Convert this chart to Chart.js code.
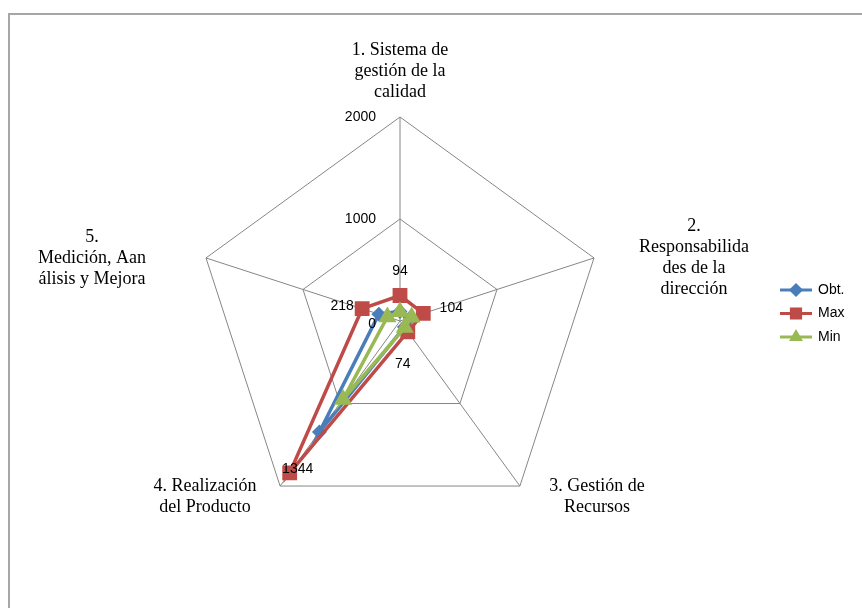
<!DOCTYPE html>
<html>
<head>
<meta charset="utf-8">
<script src="https://cdn.jsdelivr.net/npm/chart.js@4.4.0/dist/chart.umd.min.js"></script>
<style>
  html, body { margin: 0; padding: 0; background: #fff; overflow: hidden; }
  #wrap { position: relative; width: 862px; height: 608px; }
  #frame { position: absolute; left: 8px; top: 13px; width: 900px; height: 700px;
           border-left: 2px solid #a6a6a6; border-top: 2px solid #a6a6a6; }
  #radar { position: absolute; left: 0; top: 0; }
</style>
</head>
<body>
<div id="wrap">
  <div id="frame"></div>
  <canvas id="radar" width="862" height="608"></canvas>
</div>
<script>
// axis categories (multi-line labels)
const categories = [
  ["1. Sistema de", "gestión de la", "calidad"],
  ["2.", "Responsabilida", "des de la", "dirección"],
  ["3. Gestión de", "Recursos"],
  ["4. Realización", "del Producto"],
  ["5.", "Medición, Aan", "álisis y Mejora"],
];

const seriesNames = ["Obt.", "Max", "Min"];
const obtValues = [94, 104, 74, 1344, 218];
const maxValues = [250, 240, 130, 1840, 390];
const minValues = [90, 120, 80, 950, 130];

const tickValues = [0, 1000, 2000];
// labels shown next to the Max points
const dataLabels = ["94", "104", "74", "1344", "218"];

const colors = ["#4a7ebb", "#be4b48", "#98b954"];
const markers = ["rectRot", "rect", "triangle"];

const serif = "18px 'Liberation Serif', 'Times New Roman', serif";
const sans = "14px 'Liberation Sans', Arial, sans-serif";

// point label placement relative to each axis end: [dx, dy, vertical anchor]
const labelPlace = [
  [0, -14, "bottom"],
  [100, 0, "middle"],
  [77, 0, "top"],
  [-75, 0, "top"],
  [-114, 0, "middle"],
];
// data label shift from the Max point
const dlShift = [[0, -24], [28, -5], [-5, 32], [8, -4], [-20, -3]];

const overlay = {
  id: "overlay",
  afterDraw(chart) {
    const ctx = chart.ctx;
    const r = chart.scales.r;
    ctx.save();
    ctx.fillStyle = "#000";

    // axis labels
    ctx.font = serif;
    ctx.textAlign = "center";
    ctx.textBaseline = "middle";
    const lh = 21;
    categories.forEach((lines, i) => {
      const p = r.getPointPosition(i, r.drawingArea);
      const [dx, dy, anchor] = labelPlace[i];
      let y0;
      if (anchor === "bottom") y0 = p.y + dy - (lines.length - 1) * lh - lh / 2;
      else if (anchor === "middle") y0 = p.y + dy - (lines.length - 1) * lh / 2;
      else y0 = p.y + dy;
      lines.forEach((t, k) => ctx.fillText(t, p.x + dx, y0 + k * lh));
    });

    // tick labels, left of the vertical axis
    ctx.font = sans;
    ctx.textAlign = "right";
    tickValues.forEach((v) => {
      const d = r.getDistanceFromCenterForValue(v);
      ctx.fillText(String(v), r.xCenter - 24, r.yCenter - d + (v === 0 ? 3 : 0));
    });

    // data labels
    ctx.textAlign = "center";
    const meta = chart.getDatasetMeta(1);
    meta.data.forEach((pt, i) => {
      ctx.fillText(dataLabels[i], pt.x + dlShift[i][0], pt.y + dlShift[i][1]);
    });

    // legend
    ctx.textAlign = "left";
    seriesNames.forEach((name, i) => {
      const y = 290 + i * 23.5;
      ctx.strokeStyle = colors[i];
      ctx.lineWidth = 3;
      ctx.beginPath();
      ctx.moveTo(780, y);
      ctx.lineTo(812, y);
      ctx.stroke();
      Chart.helpers.drawPoint(ctx, {
        pointStyle: markers[i], radius: i === 1 ? 6.5 : 5, borderWidth: 1,
      }, 796, y);
      ctx.fillStyle = colors[i];
      ctx.fill();
      ctx.fillStyle = "#000";
      ctx.fillText(name, 818, y);
    });
    ctx.restore();
  },
};

const seriesValues = [obtValues, maxValues, minValues];
const radii = [5, 8, 7];

new Chart(document.getElementById("radar"), {
  type: "radar",
  data: {
    labels: categories.map((c) => c.join(" ")),
    datasets: seriesNames.map((name, i) => ({
      label: name,
      data: seriesValues[i],
      borderColor: colors[i],
      backgroundColor: colors[i],
      pointBackgroundColor: colors[i],
      pointBorderColor: colors[i],
      pointStyle: markers[i],
      pointRadius: radii[i],
      borderWidth: 3.5,
      fill: false,
      tension: 0,
      order: 3 - i,
    })),
  },
  options: {
    responsive: false,
    animation: false,
    devicePixelRatio: 1,
    plugins: { legend: { display: false }, tooltip: { enabled: false } },
    scales: {
      r: {
        min: 0,
        max: 2000,
        ticks: { stepSize: 1000, display: false },
        grid: { color: "#868686", lineWidth: 1 },
        angleLines: { color: "#868686", lineWidth: 1 },
        pointLabels: { display: false },
        afterFit: (scale) => {
          scale.xCenter = 400;
          scale.yCenter = 321;
          scale.drawingArea = 204;
        },
      },
    },
  },
  plugins: [overlay],
});
</script>
</body>
</html>
